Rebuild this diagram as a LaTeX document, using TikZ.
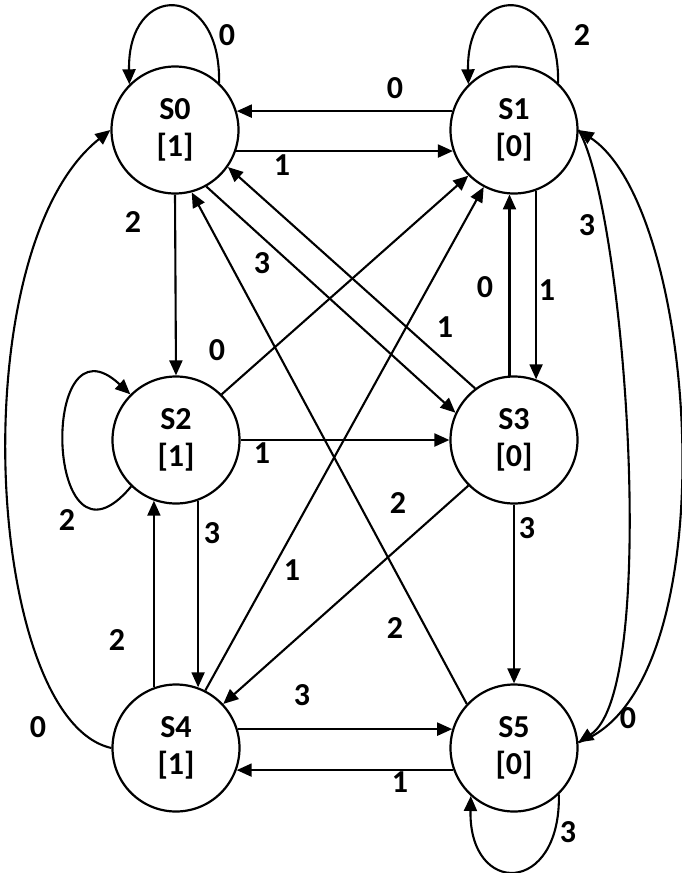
\documentclass[tikz,border=0pt]{standalone}
\usepackage{fontspec}
\setmainfont{Carlito}[BoldFont={Carlito Bold}]
\usetikzlibrary{arrows.meta}
\begin{document}
\begin{tikzpicture}[x=1pt,y=-1pt,
  st/.style={circle,draw,line width=2.2pt,minimum size=127pt,inner sep=0pt,align=center,font=\fontsize{32}{37}\selectfont\bfseries},
  lbl/.style={font=\fontsize{32}{37}\selectfont\bfseries,inner sep=0pt},
  edge/.style={line width=2.1pt,-{Triangle[length=15pt,width=13pt]}},
]
\fill[white] (0,0) rectangle (681,873);
\useasboundingbox (0,0) rectangle (681,873);

\node[st] (S0) at (175,130) {S0\\{}[1]};
\node[st] (S1) at (514,130) {S1\\{}[0]};
\node[st] (S2) at (176,440) {S2\\{}[1]};
\node[st] (S3) at (514,440) {S3\\{}[0]};
\node[st] (S4) at (176,748) {S4\\{}[1]};
\node[st] (S5) at (514,748) {S5\\{}[0]};

% self loops
\draw[edge] (S0.47) .. controls +(2,-101) and +(-2,-103) .. (S0.135);
\draw[edge] (S1.47) .. controls +(2,-101) and +(-2,-103) .. (S1.135);
\draw[edge] (S5.-46) .. controls +(2,101) and +(-2,101) .. (S5.228);
\draw[edge] (S2.226) .. controls (45,590) and (38,308) .. (S2.135);

% straight edges
\draw[edge] (S1.163) -- (S0.17);
\draw[edge] (S0.-19) -- (S1.199);
\draw[edge] (S0.south) -- (S2.north);
\draw[edge] (S0.-61) -- (S3.155);
\draw[edge] (S3.127) -- (S0.-35);
\draw[edge] (S5.137) -- (S0.-75);
\draw[edge] (S3.94) -- (S1.266);
\draw[edge] (S1.-70) -- (S3.70);
\draw[edge] (S2.45) -- (S1.225);
\draw[edge] (S4.63) -- (S1.242);
\draw[edge] (S2.east) -- (S3.west);
\draw[edge] (S2.-70) -- (S4.70);
\draw[edge] (S4.110) -- (S2.250);
\draw[edge] (S3.225) -- (S4.43);
\draw[edge] (S3.south) -- (S5.north);
\draw[edge] (S4.17) -- (S5.163);
\draw[edge] (S5.200) -- (S4.-20);

% curved edges
\draw[edge] (S4.west) .. controls (-15,720) and (-40,250) .. (S0.west);
\draw[edge] (S1.east) .. controls (625,210) and (660,690) .. (S5.5);
\draw[edge] (S5.5) .. controls (730,690) and (700,210) .. (S1.east);

% labels
\node[lbl] (l0) at (227,35) {0};
\node[lbl] (l1) at (395,88) {0};
\node[lbl] (l2) at (282,165) {1};
\node[lbl] (l3) at (582,35) {2};
\node[lbl] (l4) at (133,222) {2};
\node[lbl] (l5) at (262,263) {3};
\node[lbl] (l6) at (587,225) {3};
\node[lbl] (l7) at (485,287) {0};
\node[lbl] (l8) at (547,290) {1};
\node[lbl] (l9) at (445,327) {1};
\node[lbl] (l10) at (217,350) {0};
\node[lbl] (l11) at (262,453) {1};
\node[lbl] (l12) at (67,520) {2};
\node[lbl] (l13) at (212,533) {3};
\node[lbl] (l14) at (292,570) {1};
\node[lbl] (l15) at (398,503) {2};
\node[lbl] (l16) at (527,528) {3};
\node[lbl] (l17) at (395,628) {2};
\node[lbl] (l18) at (117,640) {2};
\node[lbl] (l19) at (38,727) {0};
\node[lbl] (l20) at (302,695) {3};
\node[lbl] (l21) at (400,782) {1};
\node[lbl] (l22) at (628,718) {0};
\node[lbl] (l23) at (568,832) {3};
\end{tikzpicture}
\end{document}
